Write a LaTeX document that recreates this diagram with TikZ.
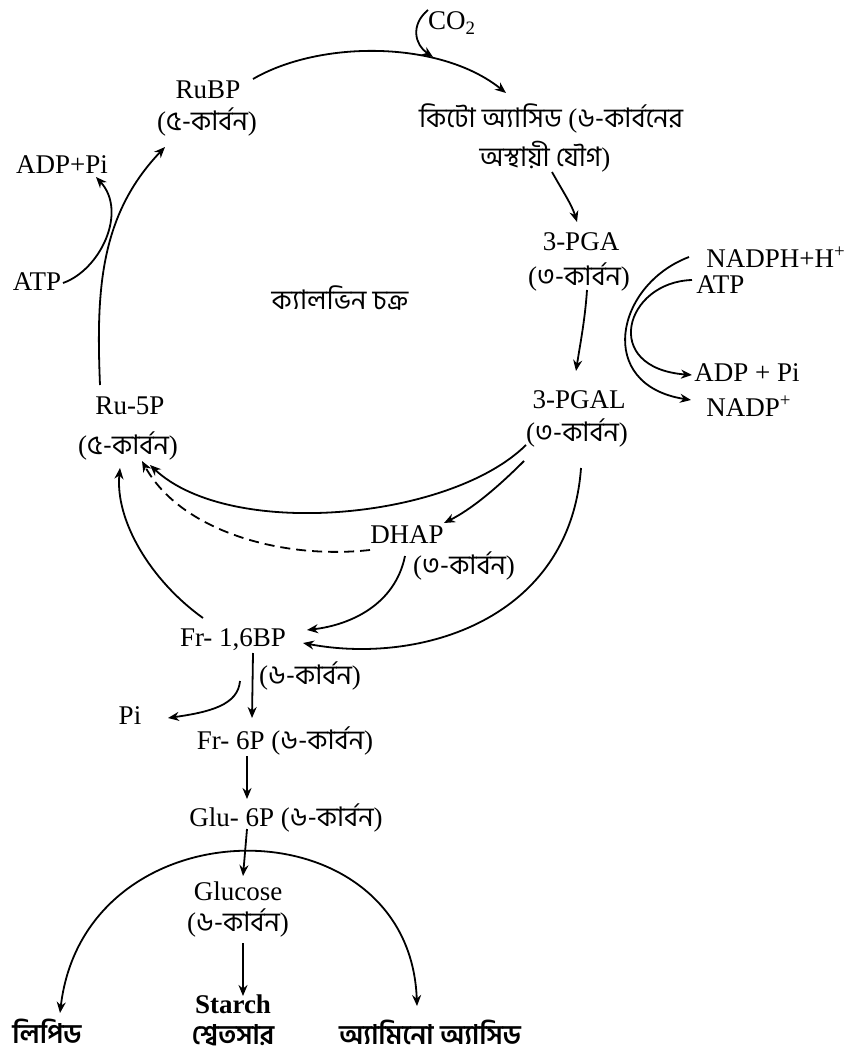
\documentclass[tikz,border=0pt]{standalone}
\usepackage{fontspec}
\setmainfont{Liberation Serif}
\newfontfamily\bn[Script=Bengali]{Hind Siliguri}
\usetikzlibrary{arrows.meta,calc}
\begin{document}
\begin{tikzpicture}[x=0.5pt,y=-0.5pt,
  font=\fontsize{13.5}{16}\selectfont,
  lbl/.style={inner sep=0pt, anchor=center},
  lblw/.style={inner sep=0pt, anchor=west},
  ln/.style={line width=0.9pt},
  arr/.style={ln, -{Stealth[length=5.5pt,width=4.5pt]}},
  dbl/.style={ln, {Stealth[length=5.5pt,width=4.5pt]}-{Stealth[length=5.5pt,width=4.5pt]}},
  dsh/.style={arr, dash pattern=on 5pt off 3pt}]
\useasboundingbox (0,0) rectangle (848,1059);
\fill[white] (0,0) rectangle (848,1059);
% ---------- nodes ----------
\node[lbl] (co2) at (452,23) {CO\textsubscript{2}};
\node[lbl] (rubp) at (208,90) {RuBP};
\node[lbl] (rubpc) at (207,122) {({\bn ৫-কার্বন})};
\node[lbl] (kt1) at (551,118) {{\bn কিটো অ্যাসিড} ({\bn ৬-কার্বনের}};
\node[lbl] (kt2) at (545,157) {{\bn অস্থায়ী যৌগ})};
\node[lbl] (pga) at (581,242) {3-PGA};
\node[lbl] (pgac) at (579,277) {({\bn ৩-কার্বন})};
\node[lblw] (nadph) at (706,257) {NADPH+H\textsuperscript{+}};
\node[lblw] (atpr) at (696,285) {ATP};
\node[lblw] (adppi) at (694,373) {ADP + Pi};
\node[lblw] (nadp) at (706,406) {NADP\textsuperscript{+}};
\node[lbl] (pgal) at (579,400) {3-PGAL};
\node[lbl] (pgalc) at (577,433) {({\bn ৩-কার্বন})};
\node[lbl] (dhap) at (407,535) {DHAP};
\node[lbl] (dhapc) at (464,566) {({\bn ৩-কার্বন})};
\node[lbl] (ru5p) at (130,406) {Ru-5P};
\node[lbl] (ru5pc) at (128,446) {({\bn ৫-কার্বন})};
\node[lbl] (calvin) at (340,298) {\bn ক্যালভিন চক্র};
\node[lbl] (adpl) at (62,165) {ADP+Pi};
\node[lbl] (atpl) at (37,282) {ATP};
\node[lbl] (fr16) at (233,640) {Fr- 1,6BP};
\node[lbl] (fr16c) at (310,676) {({\bn ৬-কার্বন})};
\node[lbl] (pi) at (130,716) {Pi};
\node[lbl] (fr6p) at (285,741) {Fr- 6P ({\bn ৬-কার্বন})};
\node[lbl] (glu6p) at (286,818) {Glu- 6P ({\bn ৬-কার্বন})};
\node[lbl] (glucose) at (238,891) {Glucose};
\node[lbl] (glucc) at (238,923) {({\bn ৬-কার্বন})};
\node[lbl] (starch) at (233,1004) {\bfseries Starch};
\node[lbl] (starchbn) at (233,1035) {\bn\bfseries শ্বেতসার};
\node[lbl] (lipid) at (47,1031) {\bn\bfseries লিপিড};
\node[lbl] (amino) at (430,1032) {\bn\bfseries অ্যামিনো অ্যাসিড};
% ---------- connectors ----------
% cycle: Ru-5P -> RuBP
\draw[arr] ($(ru5p)+(-30,-21)$) .. controls (96,290) and (100,215) .. ($(rubpc)+(-42,25)$);
% ATP -> ADP+Pi (left)
\draw[arr] ($(atpl)+(26,1)$) .. controls (100,270) and (128,212) .. ($(adpl)+(34,12)$);
% RuBP -> keto acid
\draw[arr] ($(rubp)+(45,-11)$) .. controls (320,40) and (440,40) .. ($(kt1)+(-45,-25)$);
% CO2 in
\draw[arr] ($(co2)+(-24,-13)$) .. controls (410,25) and (415,45) .. ($(co2)+(-19,34)$);
% keto -> 3-PGA
\draw[arr] ($(kt2)+(7,15)$) .. controls (562,190) and (572,205) .. ($(pga)+(-4,-20)$);
% 3-PGA -> 3-PGAL
\draw[arr] ($(pgac)+(8,13)$) .. controls (585,320) and (580,345) .. ($(pgal)+(-3,-29)$);
% NADPH -> NADP+
\draw[arr] ($(nadph.west)+(-17,0)$) .. controls (615,285) and (595,385) .. ($(nadp.west)+(-15,-6)$);
% ATP -> ADP + Pi (right)
\draw[arr] ($(atpr.west)+(-4,-5)$) .. controls (625,282) and (600,368) .. ($(adppi.west)+(-2,2)$);
% 3-PGAL -> Ru-5P
\draw[arr] ($(pgalc)+(-51,12)$) .. controls (450,520) and (230,540) .. ($(ru5pc)+(22,19)$);
% 3-PGAL -> DHAP
\draw[arr] ($(pgalc)+(-53,28)$) .. controls (495,490) and (470,510) .. ($(dhap)+(37,-12)$);
% DHAP -> Ru-5P (dashed)
\draw[dsh] ($(dhap)+(-37,15)$) .. controls (280,560) and (180,530) .. ($(ru5pc)+(14,15)$);
% Fr-1,6BP -> Ru-5P
\draw[arr] ($(fr16)+(-30,-22)$) .. controls (150,580) and (115,520) .. ($(ru5pc)+(-8,22)$);
% DHAP -> Fr-1,6BP
\draw[arr] ($(dhap)+(-2,21)$) .. controls (395,605) and (350,625) .. ($(fr16)+(74,-10)$);
% 3-PGAL -> Fr-1,6BP
\draw[arr] ($(pgalc)+(4,35)$) .. controls (570,620) and (420,665) .. ($(fr16)+(70,3)$);
% Fr-1,6BP -> Fr-6P
\draw[arr] ($(fr16)+(20,13)$) -- ($(fr6p)+(-33,-23)$);
% Pi release
\draw[arr] ($(fr16)+(7,41)$) .. controls (238,705) and (210,712) .. ($(pi)+(38,2)$);
% Fr-6P -> Glu-6P
\draw[arr] ($(fr6p)+(-38,15)$) -- ($(glu6p)+(-39,-19)$);
% Glu-6P -> Glucose
\draw[arr] ($(glu6p)+(-39,11)$) -- ($(glucose)+(5,-15)$);
% Glucose -> Starch
\draw[arr] ($(glucc)+(5,20)$) -- ($(starch)+(10,-8)$);
% arch to lipid and amino acid
\draw[dbl] ($(lipid)+(13,-18)$) .. controls (85,800) and (410,800) .. ($(amino)+(-13,-26)$);
\end{tikzpicture}
\end{document}
